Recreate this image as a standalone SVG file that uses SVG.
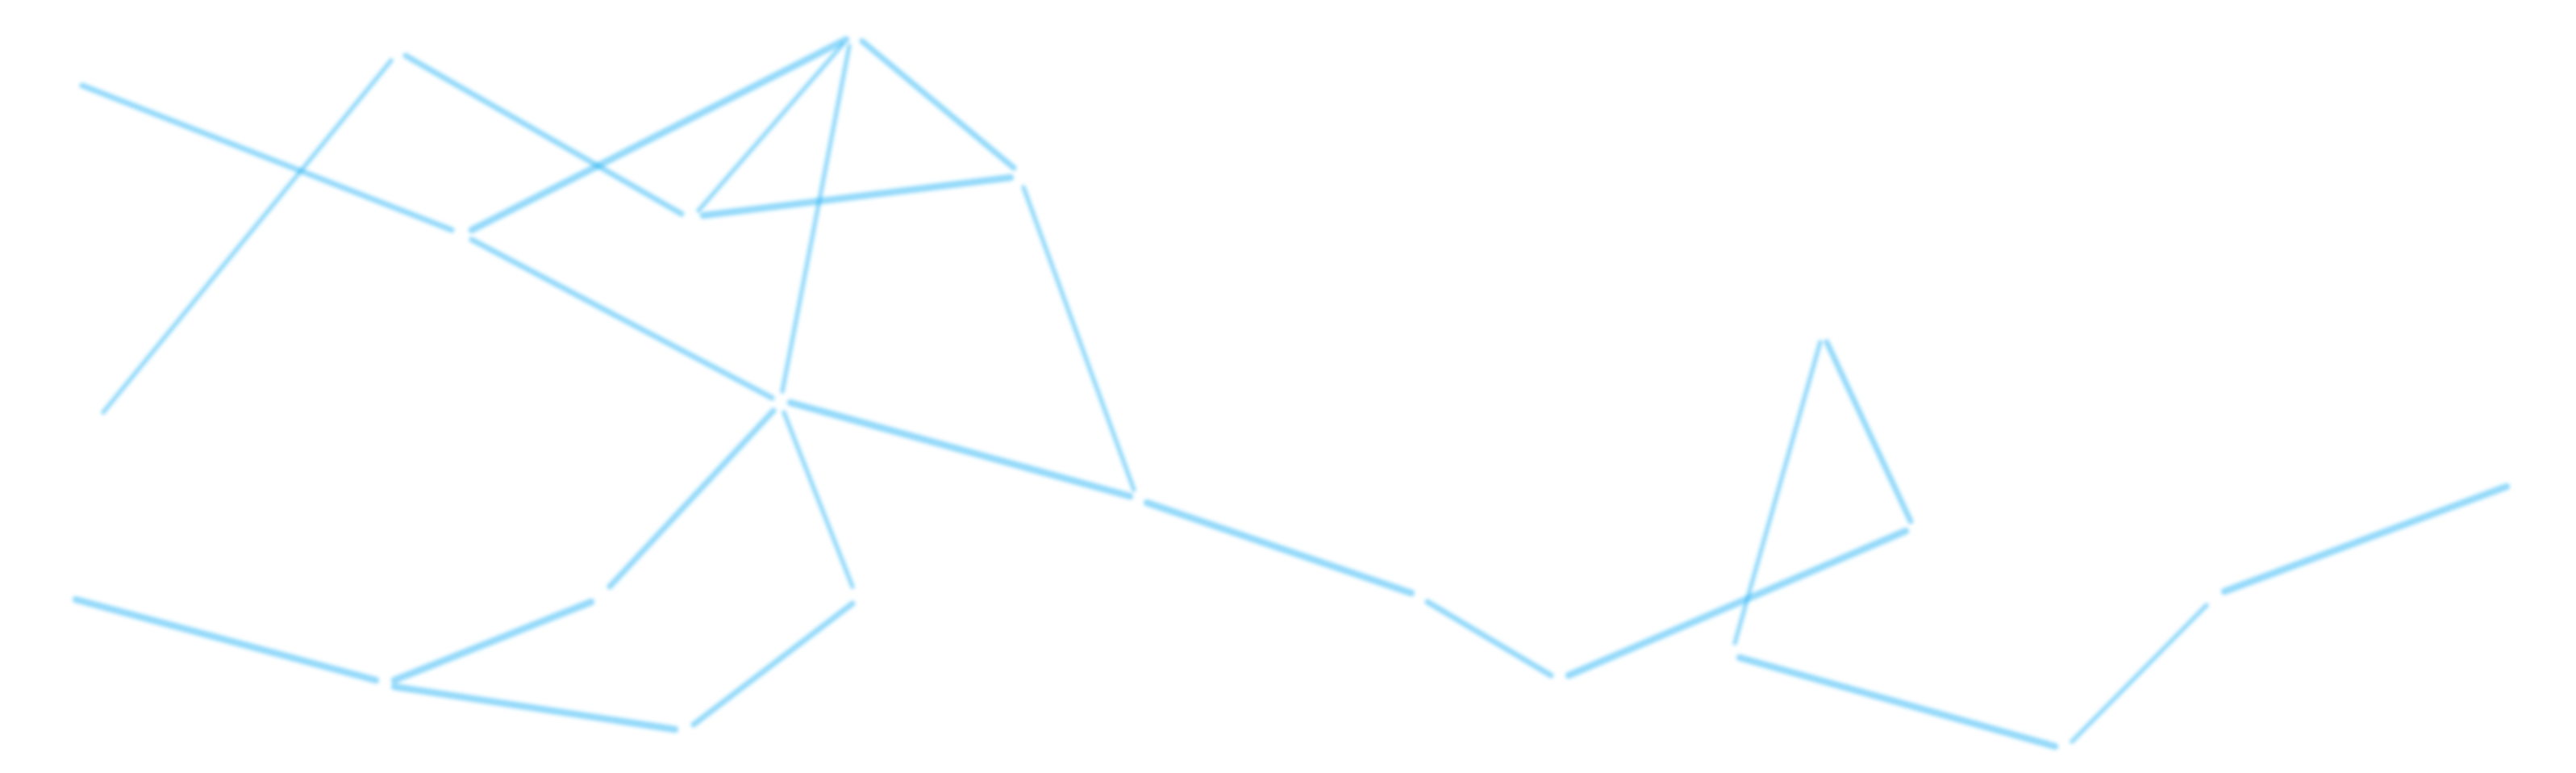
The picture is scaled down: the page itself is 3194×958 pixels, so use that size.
<svg xmlns="http://www.w3.org/2000/svg" width="3194" height="958" viewBox="0 0 3194 958">
<style>
line{stroke:#29b6f6;stroke-opacity:0.5;stroke-linecap:round;fill:none}
.t{stroke-width:5.5}
.m{stroke-width:7}
.k{stroke-width:8.5}
</style>
<defs>
<filter id="soft" x="-5%" y="-5%" width="110%" height="110%"><feGaussianBlur stdDeviation="2"/></filter>
</defs>
<rect width="3194" height="958" fill="#ffffff"/>
<g id="connectors" filter="url(#soft)">
<line class="m" x1="102" y1="106" x2="560" y2="285"/>
<line class="t" x1="128" y1="511" x2="485" y2="75"/>
<line class="m" x1="503" y1="69" x2="845" y2="265"/>
<line class="k" x1="585" y1="285" x2="1049" y2="49"/>
<line class="t" x1="866" y1="261" x2="1045" y2="55"/>
<line class="k" x1="872" y1="267" x2="1253" y2="220"/>
<line class="m" x1="1069" y1="51" x2="1257" y2="208"/>
<line class="t" x1="1053" y1="57" x2="970" y2="485"/>
<line class="m" x1="585" y1="297" x2="957" y2="493"/>
<line class="t" x1="1269" y1="232" x2="1406" y2="607"/>
<line class="k" x1="980" y1="499" x2="1401" y2="615"/>
<line class="m" x1="959" y1="509" x2="756" y2="727"/>
<line class="t" x1="972" y1="511" x2="1057" y2="727"/>
<line class="k" x1="1422" y1="623" x2="1750" y2="735"/>
<line class="m" x1="1770" y1="746" x2="1923" y2="837"/>
<line class="k" x1="1945" y1="837" x2="2363" y2="658"/>
<line class="t" x1="2257" y1="424" x2="2151" y2="797"/>
<line class="m" x1="2265" y1="424" x2="2369" y2="646"/>
<line class="k" x1="2157" y1="815" x2="2548" y2="925"/>
<line class="t" x1="2569" y1="919" x2="2736" y2="750"/>
<line class="k" x1="2758" y1="733" x2="3108" y2="603"/>
<line class="k" x1="94" y1="743" x2="466" y2="843"/>
<line class="k" x1="489" y1="843" x2="733" y2="746"/>
<line class="k" x1="489" y1="851" x2="837" y2="904"/>
<line class="m" x1="860" y1="898" x2="1057" y2="748"/>
</g>
</svg>
